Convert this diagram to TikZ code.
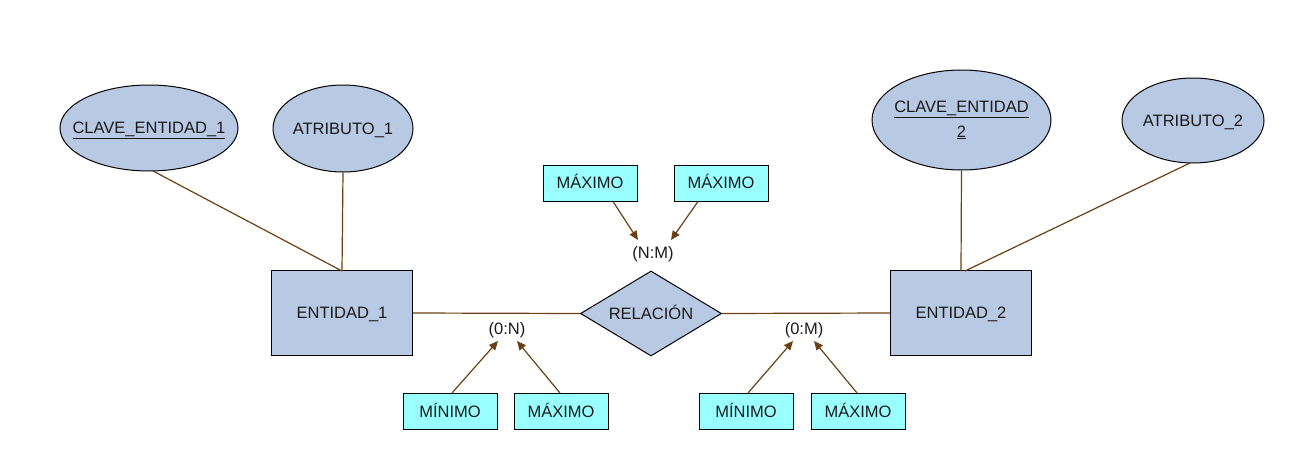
\documentclass[tikz,border=0pt]{standalone}
\usepackage{fontspec}
\setmainfont{Liberation Sans}
\usetikzlibrary{shapes.geometric,arrows.meta}
\definecolor{entfill}{HTML}{B8C9E3}
\definecolor{cardfill}{HTML}{99FFFF}
\definecolor{lnk}{HTML}{6B4113}
\definecolor{txt}{HTML}{1A1A1A}
\begin{document}
\begin{tikzpicture}[x=1pt,y=-1pt,
  every node/.style={font=\fontsize{16.5}{20}\selectfont, text=txt},
  one/.style={text height=11.8pt, text depth=0pt},
  ent/.style={one, draw=black, fill=entfill, line width=1pt, minimum width=141pt, minimum height=85pt, inner sep=0pt},
  attr/.style={ellipse, draw=black, fill=entfill, line width=1pt, inner sep=-40pt},
  rel/.style={one, diamond, draw=black, fill=entfill, line width=1pt, inner sep=0pt, aspect=1.66, minimum width=141pt, minimum height=85pt},
  card/.style={one, draw=black, fill=cardfill, line width=1pt, minimum width=94pt, minimum height=36pt, inner sep=0pt},
  lbl/.style={one, inner sep=0pt},
  conn/.style={draw=lnk, line width=1.2pt},
  carr/.style={draw=lnk, line width=1.2pt, -{Triangle[width=8pt,length=9pt]}}
]
\useasboundingbox (0,0) rectangle (1310,471);
% entities
\node[ent] (e1) at (342,313) {ENTIDAD\_1};
\node[ent] (e2) at (961,313) {ENTIDAD\_2};
\node[rel] (r) at (651,313.5) {RELACIÓN};
% attributes
\node[attr, one, minimum width=178pt, minimum height=86pt] (k1) at (149,128) {\underline{CLAVE\_ENTIDAD\_1}};
\node[attr, one, minimum width=140pt, minimum height=87pt] (a1) at (343,128.5) {ATRIBUTO\_1};
\node[attr, minimum width=179pt, minimum height=100pt, align=center] (k2) at (961.5,120) {\underline{CLAVE\_ENTIDAD}\\[5pt]\underline{2}};
\node[attr, one, minimum width=142pt, minimum height=85pt] (a2) at (1193,120.5) {ATRIBUTO\_2};
% attribute links
\coordinate (e1t) at (342,271);
\coordinate (e2t) at (961,271);
\coordinate (e2t2) at (965,271);
\coordinate (k1b) at (153,171);
\coordinate (a2b) at (1190,163);
\draw[conn] (k1b) -- (e1t);
\draw[conn] (a1.south) -- (e1t);
\draw[conn] (k2.south) -- (e2t);
\draw[conn] (a2b) -- (e2t2);
% relation links
\draw[conn] (e1.east) -- (r.west);
\draw[conn] (r.east) -- (e2.west);
% cardinality labels
\node[lbl] (nm) at (653,253) {(N:M)};
\node[lbl] (c1) at (507,329) {(0:N)};
\node[lbl] (c2) at (804,329) {(0:M)};
% cardinality boxes
\node[card] (mx1) at (590,183) {MÁXIMO};
\node[card] (mx2) at (721,183) {MÁXIMO};
\node[card] (mn3) at (450,411.5) {MÍNIMO};
\node[card] (mx3) at (561,411.5) {MÁXIMO};
\node[card] (mn4) at (746,411.5) {MÍNIMO};
\node[card] (mx4) at (858,411.5) {MÁXIMO};
% arrows
\coordinate (t1) at (638,240);
\coordinate (t2) at (671,240);
\coordinate (t3) at (498,341);
\coordinate (t4) at (517,341);
\coordinate (t5) at (793,341);
\coordinate (t6) at (814,341);
\draw[carr] (mx1.south -| 613,0) -- (t1);
\draw[carr] (mx2.south -| 698,0) -- (t2);
\draw[carr] (mn3.north -| 452,0) -- (t3);
\draw[carr] (mx3.north -| 560,0) -- (t4);
\draw[carr] (mn4.north -| 748,0) -- (t5);
\draw[carr] (mx4.north -| 857,0) -- (t6);
\end{tikzpicture}
\end{document}
